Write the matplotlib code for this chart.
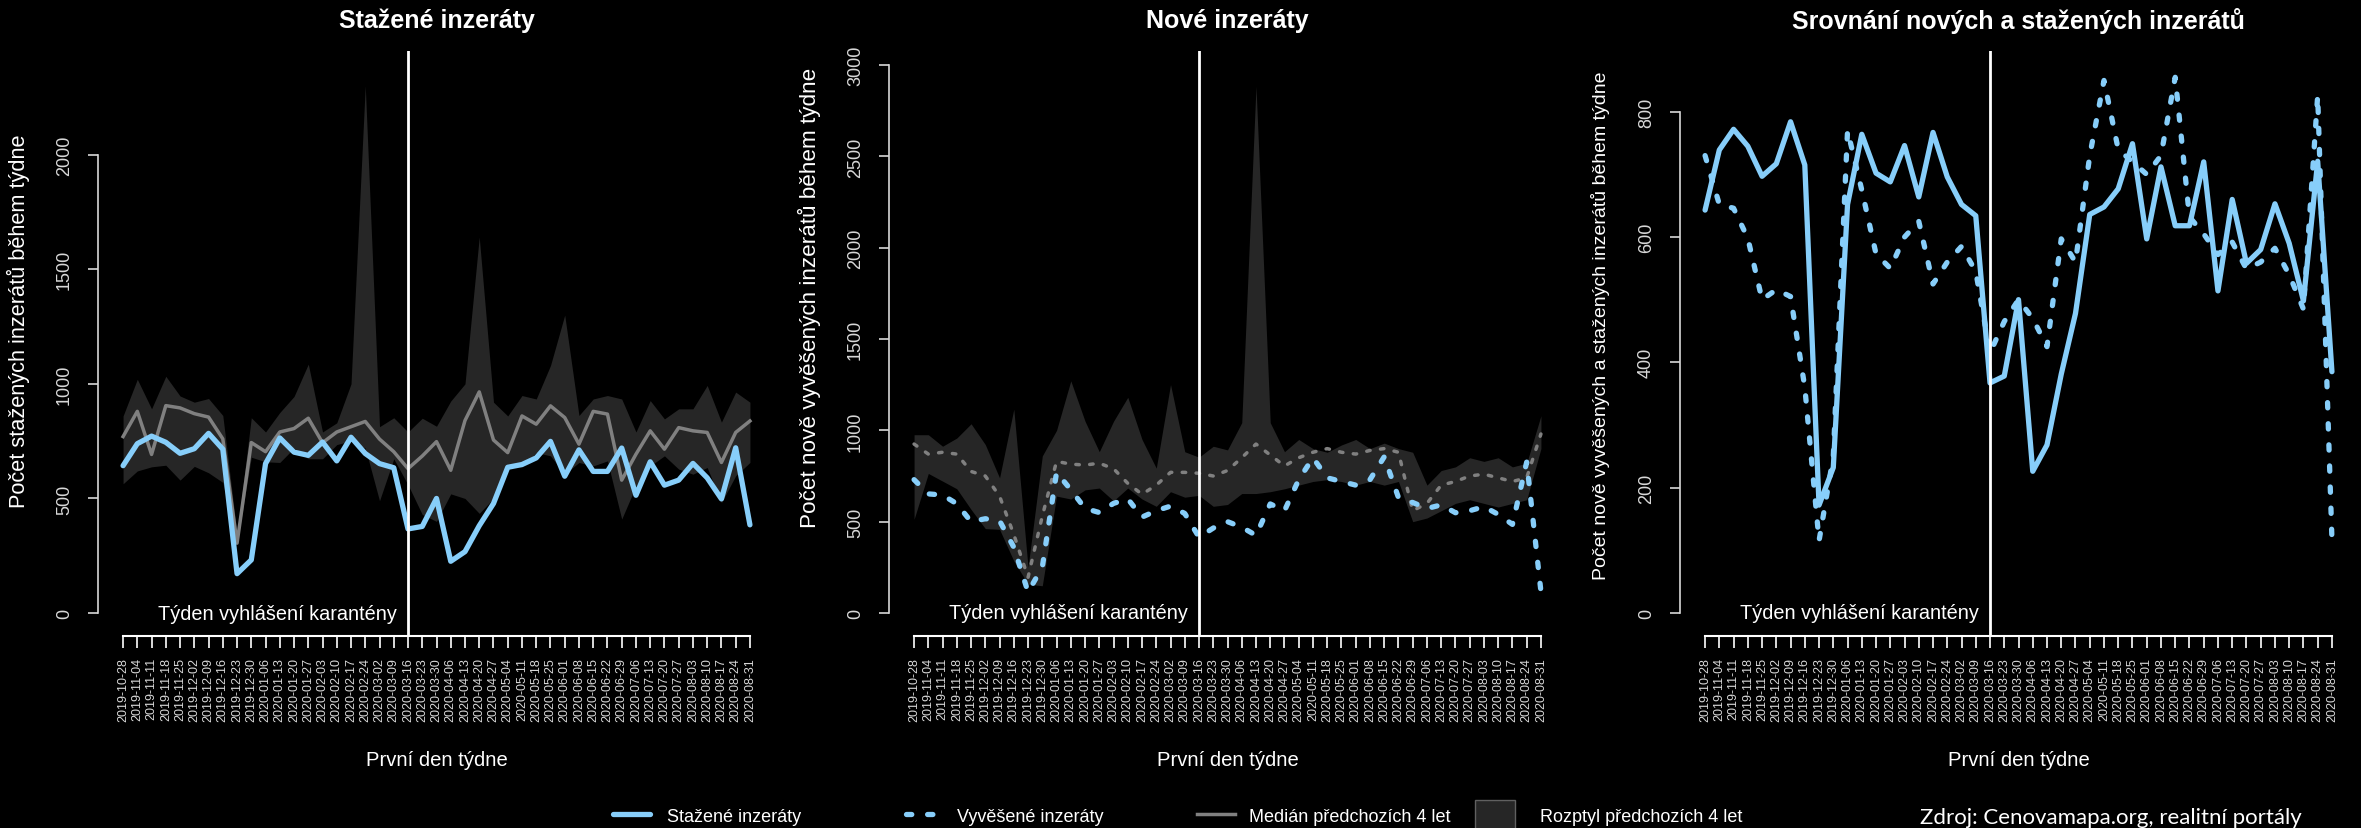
import matplotlib.pyplot as plt
from matplotlib.lines import Line2D
from matplotlib.patches import Rectangle

# prvni den tydne
weeks = ['2019-10-28', '2019-11-04', '2019-11-11', '2019-11-18', '2019-11-25',
         '2019-12-02', '2019-12-09', '2019-12-16', '2019-12-23', '2019-12-30',
         '2020-01-06', '2020-01-13', '2020-01-20', '2020-01-27', '2020-02-03',
         '2020-02-10', '2020-02-17', '2020-02-24', '2020-03-02', '2020-03-09',
         '2020-03-16', '2020-03-23', '2020-03-30', '2020-04-06', '2020-04-13',
         '2020-04-20', '2020-04-27', '2020-05-04', '2020-05-11', '2020-05-18',
         '2020-05-25', '2020-06-01', '2020-06-08', '2020-06-15', '2020-06-22',
         '2020-06-29', '2020-07-06', '2020-07-13', '2020-07-20', '2020-07-27',
         '2020-08-03', '2020-08-10', '2020-08-17', '2020-08-24', '2020-08-31']
karantena = '2020-03-16'

# stazene inzeraty - letos, median a rozpeti predchozich 4 let
stazene = [643, 739, 772, 745, 697, 717, 784, 715, 172, 232,
           652, 764, 702, 688, 746, 664, 767, 696, 652, 634,
           367, 378, 500, 226, 268, 381, 478, 636, 648, 677,
           749, 597, 712, 618, 618, 720, 514, 660, 558, 580,
           653, 590, 498, 721, 385]
stazene_median = [770, 880, 692, 905, 895, 870, 855, 760, 305, 744,
                  704, 790, 805, 850, 743, 790, 813, 836, 759, 704,
                  630, 685, 748, 623, 840, 965, 755, 700, 860, 824,
                  904, 853, 737, 880, 868, 580, 693, 795, 715, 809,
                  795, 788, 657, 788, 838]
stazene_min = [564, 620, 638, 645, 580, 640, 612, 570, 300, 680,
               660, 657, 720, 673, 673, 735, 751, 720, 490, 673,
               560, 430, 400, 520, 500, 435, 500, 642, 638, 700,
               686, 606, 657, 642, 664, 410, 555, 642, 686, 628,
               606, 635, 482, 599, 657]
stazene_max = [860, 1020, 891, 1033, 947, 920, 936, 862, 346, 852,
               790, 875, 945, 1086, 790, 830, 1000, 2300, 813, 852,
               790, 850, 815, 925, 1000, 1640, 920, 860, 949, 934,
               1080, 1300, 862, 934, 949, 934, 790, 927, 847, 891,
               891, 993, 833, 964, 920]

# nove (vyvesene) inzeraty
vyvesene = [730, 652, 646, 598, 500, 516, 505, 360, 115, 250,
            770, 675, 573, 550, 600, 625, 525, 560, 585, 545,
            415, 465, 500, 470, 425, 597, 560, 730, 850, 740,
            720, 700, 730, 855, 632, 605, 572, 592, 549, 560,
            582, 540, 485, 826, 118]
nove_median = [925, 870, 880, 870, 775, 750, 640, 430, 195, 530,
               830, 815, 810, 820, 790, 710, 650, 700, 770, 770,
               765, 750, 780, 850, 925, 865, 805, 850, 880, 900,
               880, 870, 890, 900, 880, 560, 600, 700, 720, 750,
               760, 740, 720, 740, 980]
nove_min = [513, 764, 722, 680, 567, 462, 458, 285, 158, 149,
            640, 624, 674, 684, 614, 684, 624, 584, 664, 634,
            644, 584, 594, 654, 654, 664, 680, 700, 720, 730,
            720, 700, 720, 700, 720, 500, 520, 560, 600, 620,
            600, 580, 600, 620, 900]
nove_max = [976, 976, 913, 958, 1036, 922, 740, 1116, 250, 860,
            1000, 1271, 1050, 883, 1050, 1181, 950, 793, 1251, 883,
            853, 913, 893, 1042, 2884, 1042, 883, 950, 900, 880,
            920, 950, 900, 930, 900, 880, 700, 780, 800, 850,
            830, 850, 800, 820, 1080]

modra = '#87CEFA'
seda = '#808080'
pas = '#262626'
osa = '#d8d8d8'

plt.rcParams['font.family'] = ['Liberation Sans', 'DejaVu Sans']

W, H = 2361, 829
fig = plt.figure(figsize=(W / 100, H / 100), dpi=100, facecolor='black')

x = list(range(len(weeks)))
k = weeks.index(karantena)


def panel(left, title, ylabel, yticks, ylim, ylab_size, ylab_pos):
    ax = fig.add_axes([left / W, 1 - 637 / H, 677 / W, 585 / H])
    ax.set_facecolor('black')
    ax.set_xlim(-1.76, len(weeks) - 1 + 1.76)
    ax.set_ylim(ylim)
    for s in ['top', 'right']:
        ax.spines[s].set_visible(False)
    ax.spines['left'].set_bounds(yticks[0], yticks[-1])
    ax.spines['bottom'].set_bounds(0, len(weeks) - 1)
    ax.spines['left'].set_color(osa)
    ax.spines['bottom'].set_color('white')
    ax.spines['left'].set_linewidth(1.2)
    ax.spines['bottom'].set_linewidth(1.5)
    ax.set_yticks(yticks)
    ax.set_xticks(x)
    ax.set_xticklabels(weeks)
    ax.tick_params(axis='y', colors=osa, labelsize=13, length=7, width=1.2,
                   pad=11, labelrotation=90)
    for t in ax.get_yticklabels():
        t.set_va('center')
    ax.tick_params(axis='x', colors='white', labelcolor=osa, labelsize=9,
                   length=8.5, width=1.2, pad=6.5, labelrotation=90)
    ax.set_title(title, fontsize=18, fontweight='bold', color='white',
                 y=1 + 31 / 585, va='center', pad=0)
    ax.set_ylabel(ylabel, fontsize=ylab_size, color='white')
    ax.yaxis.label.set_va('center')
    ax.yaxis.set_label_coords(-80 / 677, ylab_pos)
    ax.set_xlabel('První den týdne', fontsize=14.6, color='white')
    ax.xaxis.label.set_va('center')
    ax.xaxis.set_label_coords(0.5, -123 / 585)
    ax.text(k - 0.75, 0, 'Týden vyhlášení karantény', ha='right', va='center',
            fontsize=14.3, color='white')
    return ax


# stazene inzeraty
ax1 = panel(98, 'Stažené inzeráty', 'Počet stažených inzerátů během týdne',
            [0, 500, 1000, 1500, 2000], (-100, 2452), 15.7, 0.54)
ax1.fill_between(x, stazene_min, stazene_max, color=pas, lw=0)
ax1.plot(x, stazene_median, color=seda, lw=2.5, solid_joinstyle='round')
ax1.plot(x, stazene, color=modra, lw=3.8, solid_capstyle='round',
         solid_joinstyle='round')
ax1.axvline(k, color='white', lw=2)

# nove inzeraty
ax2 = panel(889, 'Nové inzeráty', 'Počet nově vyvěšených inzerátů během týdne',
            [0, 500, 1000, 1500, 2000, 2500, 3000], (-126, 3077), 16.2, 0.58)
ax2.fill_between(x, nove_min, nove_max, color=pas, lw=0)
ax2.plot(x, nove_median, color=seda, lw=2.5, ls=(0, (1, 3)),
         dash_capstyle='round')
ax2.plot(x, vyvesene, color=modra, lw=3.8, ls=(0, (1, 3)),
         dash_capstyle='round')
ax2.axvline(k, color='white', lw=2)

# srovnani
ax3 = panel(1680, 'Srovnání nových a stažených inzerátů',
            'Počet nově vyvěšených a stažených inzerátů během týdne',
            [0, 200, 400, 600, 800], (-37, 897), 14, 0.532)
ax3.plot(x, stazene, color=modra, lw=3.8, solid_capstyle='round',
         solid_joinstyle='round')
ax3.plot(x, vyvesene, color=modra, lw=3.8, ls=(0, (1, 3)),
         dash_capstyle='round')
ax3.axvline(k, color='white', lw=2)

# legenda dole
ly = 1 - 815 / H
ty = 1 - 818 / H
fig.add_artist(Line2D([613 / W, 650 / W], [ly, ly], color=modra, lw=3.8,
                      solid_capstyle='round'))
fig.text(667 / W, ty, 'Stažené inzeráty', color='white', fontsize=13,
         va='center')
fig.add_artist(Line2D([906 / W, 940 / W], [ly, ly], color=modra, lw=3.8,
                      ls=(0, (1, 3)), dash_capstyle='round'))
fig.text(957 / W, ty, 'Vyvěšené inzeráty', color='white', fontsize=13,
         va='center')
fig.add_artist(Line2D([1197 / W, 1235 / W], [ly, ly], color=seda, lw=2.5))
fig.text(1249 / W, ty, 'Medián předchozích 4 let', color='white', fontsize=13,
         va='center')
fig.add_artist(Rectangle((1475 / W, -0.01), 40 / W, (829 - 801) / H + 0.01,
                         transform=fig.transFigure, facecolor=pas,
                         edgecolor='#606060', lw=1))
fig.text(1540 / W, ty, 'Rozptyl předchozích 4 let', color='white', fontsize=13,
         va='center')
fig.text(1920 / W, ty, 'Zdroj: Cenovamapa.org, realitní portály', color='white',
         fontsize=16, family=['Lato', 'DejaVu Sans'], va='center')

fig.savefig('out.png', dpi=100, facecolor='black')
